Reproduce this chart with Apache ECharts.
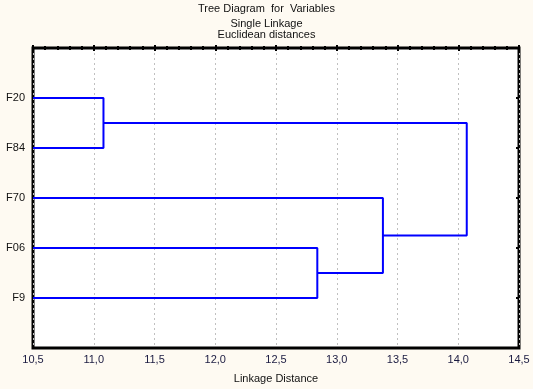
<!DOCTYPE html>
<html><head><meta charset="utf-8">
<script src="https://cdn.jsdelivr.net/npm/echarts@6/dist/echarts.min.js"></script>
<style>html,body{margin:0;padding:0;background:#fefaf2;}#c{width:533px;height:389px;}</style>
</head><body><div id="c"></div>
<script>
var leaves = ['F20', 'F84', 'F70', 'F06', 'F9'];
// merges: [childA, childB, linkage distance]; nodes 0-4 are leaves, 5+ are clusters in order
var mergeA = [0, 3, 2, 5];
var mergeB = [1, 4, 6, 7];
var mergeH = [11.08, 12.84, 13.38, 14.07];
var xTicks = [10.5, 11.0, 11.5, 12.0, 12.5, 13.0, 13.5, 14.0, 14.5];

var nodeX = [], nodeY = [];
leaves.forEach(function (l, i) { nodeX.push(10.5); nodeY.push(i + 1); });
var series = [];
for (var k = 0; k < mergeH.length; k++) {
  var a = mergeA[k], b = mergeB[k], h = mergeH[k];
  series.push({
    type: 'line', symbol: 'none', animation: false,
    lineStyle: { color: '#0000ff', width: 2 },
    data: [[nodeX[a], nodeY[a]], [h, nodeY[a]], [h, nodeY[b]], [nodeX[b], nodeY[b]]]
  });
  nodeX.push(h); nodeY.push((nodeY[a] + nodeY[b]) / 2);
}
var font = 'Liberation Sans, Arial, sans-serif';
var tStyle = { fontSize: 11, fontWeight: 'normal', color: '#111', fontFamily: font };
var chart = echarts.init(document.getElementById('c'));
chart.setOption({
  backgroundColor: '#fefaf2',
  animation: false,
  title: [
    { text: 'Tree Diagram  for  Variables', left: 'center', top: 3, padding: 0, textStyle: tStyle },
    { text: 'Single Linkage', left: 'center', top: 18, padding: 0, textStyle: tStyle },
    { text: 'Euclidean distances', left: 'center', top: 29, padding: 0, textStyle: tStyle }
  ],
  grid: { left: 33, right: 14, top: 48, bottom: 38, show: true, backgroundColor: '#ffffff', borderColor: '#000', borderWidth: 3, containLabel: false },
  xAxis: [{
    type: 'value', min: xTicks[0], max: xTicks[xTicks.length - 1], interval: 0.5,
    name: 'Linkage Distance', nameLocation: 'middle', nameGap: 25,
    nameTextStyle: { fontSize: 11, color: '#111', fontFamily: font },
    axisLine: { show: false },
    axisTick: { show: true, inside: true, length: 3, lineStyle: { color: '#000', width: 2 } },
    minorTick: { show: true, splitNumber: 5, length: 2, lineStyle: { color: '#000', width: 2 } },
    axisLabel: { fontSize: 11, color: '#1a1a40', fontFamily: font, margin: 6, formatter: function (v) { return v.toFixed(1).replace('.', ','); } },
    splitLine: { show: true, lineStyle: { color: '#c0c0c0', type: [2, 3], width: 1 } }
  }, {
    type: 'value', position: 'top', min: xTicks[0], max: xTicks[xTicks.length - 1], interval: 0.5,
    axisLine: { show: false }, axisLabel: { show: false }, splitLine: { show: false },
    axisTick: { show: true, inside: true, length: 3, lineStyle: { color: '#000', width: 2 } },
    minorTick: { show: true, splitNumber: 5, length: 2, lineStyle: { color: '#000', width: 2 } }
  }],
  yAxis: [{
    type: 'value', min: 0, max: leaves.length + 1, interval: 1, inverse: true,
    axisLine: { show: false },
    axisTick: { show: false },
    splitLine: { show: false },
    axisLabel: { fontSize: 11, color: '#111', fontFamily: font, margin: 8, formatter: function (v) { return (v >= 1 && v <= leaves.length) ? leaves[v - 1] : ''; } }
  }, {
    type: 'value', position: 'right', min: 0, max: leaves.length + 1, interval: 1, inverse: true,
    axisLine: { show: false }, axisLabel: { show: false }, splitLine: { show: false },
    axisTick: { show: true, inside: true, length: 3, lineStyle: { color: '#000', width: 2 } }
  }],
  series: series
});
</script></body></html>
